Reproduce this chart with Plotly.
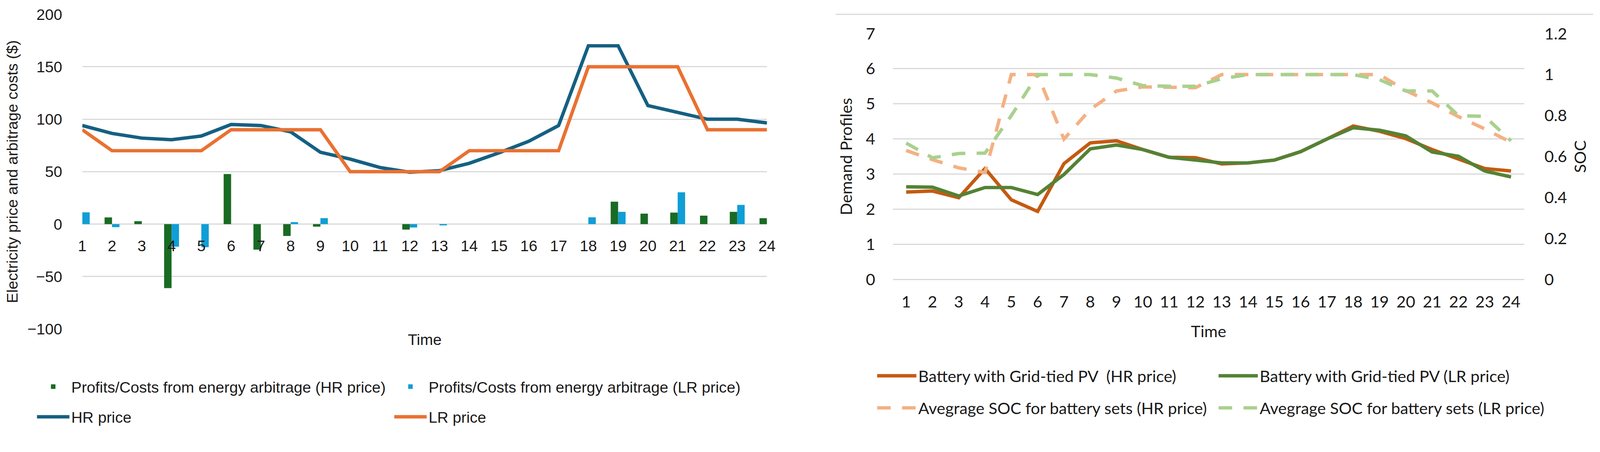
import plotly.graph_objects as go

W, H = 4241, 1157

hours = list(range(1, 25))
hour_labels = [str(h) for h in hours]

# Left chart data
arb_hr = [0, 6.4, 2.8, -61, 0, 47.7, -24.3, -11.3, -2.4, 0, 0, -5.2,
          0, 0, 0, 0, 0, 0, 21.4, 10, 11, 8.1, 11.7, 5.7]
arb_lr = [11.2, -2.9, 0, -21.5, -22, 0, 0, 1.9, 5.7, 0, 0, -3.2,
          -1.2, 0, 0, 0, 0, 6.5, 11.7, 0, 30.3, 0, 18.3, 0]
hr_price = [94, 86.5, 82, 80.5, 84, 95, 94, 88, 68.5, 62, 54, 49.5,
            51, 58, 68, 79, 94, 170, 170, 113, 106.5, 100, 100, 96.5]
lr_price = [90, 70, 70, 70, 70, 90, 90, 90, 90, 50, 50, 50,
            50, 70, 70, 70, 70, 150, 150, 150, 150, 90, 90, 90]

# Right chart data
batt_hr = [2.49, 2.52, 2.33, 3.16, 2.27, 1.94, 3.30, 3.89, 3.95, 3.70, 3.48, 3.47,
           3.29, 3.32, 3.40, 3.64, 4.00, 4.37, 4.22, 4.01, 3.70, 3.43, 3.16, 3.09]
batt_lr = [2.64, 2.63, 2.38, 2.62, 2.62, 2.42, 2.99, 3.72, 3.83, 3.70, 3.48, 3.41,
           3.32, 3.32, 3.40, 3.64, 4.00, 4.32, 4.25, 4.09, 3.63, 3.51, 3.09, 2.92]
soc_hr = [0.63, 0.585, 0.545, 0.522, 1.0, 1.0, 0.685, 0.83, 0.92, 0.94, 0.938, 0.936,
          1.0, 1.0, 1.0, 1.0, 1.0, 1.0, 1.0, 0.922, 0.862, 0.795, 0.735, 0.67]
soc_lr = [0.666, 0.594, 0.615, 0.617, 0.80, 1.0, 1.0, 1.0, 0.983, 0.946, 0.943, 0.943,
          0.98, 1.0, 1.0, 1.0, 1.0, 1.0, 0.975, 0.92, 0.92, 0.80, 0.796, 0.677]

left_y_ticks = [-100, -50, 0, 50, 100, 150, 200]
soc_ticks = [0, 0.2, 0.4, 0.6, 0.8, 1.0, 1.2]
soc_tick_text = ["0", "0.2", "0.4", "0.6", "0.8", "1", "1.2"]

FONT_L = "Liberation Sans, Arial, sans-serif"
FONT_R = "Lato, Liberation Sans, sans-serif"
GRID = "#d9d9d9"
TXT = "#1a1a1a"
FS_L = 41
FS_R = 43


def px_x(p):
    return p / W


def px_y(p):
    return 1 - p / H


# layout geometry (pixels)
L_X0, L_X1 = 218, 2033
L_YT, L_YB = 38, 872
R_X0, R_X1 = 2367, 4040
R_YT, R_YB = 89, 741

ly_dom = [px_y(L_YB), px_y(L_YT)]
lrange = [-100, 200]
zero_pos = ly_dom[0] + (0 - lrange[0]) / (lrange[1] - lrange[0]) * (ly_dom[1] - ly_dom[0])

fig = go.Figure()

fig.add_trace(go.Bar(
    x=hours, y=arb_hr, name="Profits/Costs from energy arbitrage (HR price)",
    marker=dict(color="#196B24", line=dict(width=0)), xaxis="x", yaxis="y",
    legend="legend"))
fig.add_trace(go.Bar(
    x=hours, y=arb_lr, name="Profits/Costs from energy arbitrage (LR price)",
    marker=dict(color="#0F9ED5", line=dict(width=0)), xaxis="x", yaxis="y",
    legend="legend"))
fig.add_trace(go.Scatter(
    x=hours, y=hr_price, name="HR price", mode="lines",
    line=dict(color="#156082", width=9), xaxis="x", yaxis="y", legend="legend2"))
fig.add_trace(go.Scatter(
    x=hours, y=lr_price, name="LR price", mode="lines",
    line=dict(color="#E97132", width=9), xaxis="x", yaxis="y", legend="legend2"))

fig.add_trace(go.Scatter(
    x=hours, y=batt_hr, name="Battery with Grid-tied PV  (HR price)", mode="lines",
    line=dict(color="#C55A11", width=9), xaxis="x2", yaxis="y2", legend="legend3"))
fig.add_trace(go.Scatter(
    x=hours, y=batt_lr, name="Battery with Grid-tied PV (LR price)", mode="lines",
    line=dict(color="#548235", width=9), xaxis="x2", yaxis="y2", legend="legend3"))
fig.add_trace(go.Scatter(
    x=hours, y=soc_hr, name="Avegrage SOC for battery sets (HR price)", mode="lines",
    line=dict(color="#F4B183", width=9, dash="36px,30px"), xaxis="x2", yaxis="y3",
    legend="legend4"))
fig.add_trace(go.Scatter(
    x=hours, y=soc_lr, name="Avegrage SOC for battery sets (LR price)", mode="lines",
    line=dict(color="#A9D18E", width=9, dash="36px,30px"), xaxis="x2", yaxis="y3",
    legend="legend4"))

leg_common = dict(orientation="h", bgcolor="rgba(0,0,0,0)", xanchor="left",
                  yanchor="middle", entrywidthmode="pixels",
                  traceorder="normal", valign="middle")

fig.update_layout(
    width=W, height=H,
    margin=dict(l=0, r=0, t=0, b=0),
    paper_bgcolor="white", plot_bgcolor="white",
    barmode="group", bargap=0.5, bargroupgap=0,
    font=dict(family=FONT_L, size=FS_L, color=TXT),
    xaxis=dict(
        domain=[px_x(L_X0), px_x(L_X1)], range=[1, 24], anchor="free",
        position=zero_pos, tickmode="array", tickvals=hours, ticktext=hour_labels,
        showgrid=False, showline=False, zeroline=False, ticks="",
        ticklabelstandoff=30, tickfont=dict(family=FONT_L, size=FS_L, color=TXT),
        automargin=False,
    ),
    yaxis=dict(
        domain=ly_dom, range=lrange, tickmode="array", tickvals=left_y_ticks,
        showgrid=True, gridcolor=GRID, gridwidth=3, zeroline=True,
        zerolinecolor=GRID, zerolinewidth=3, showline=False, ticks="",
        ticklabelstandoff=52, tickfont=dict(family=FONT_L, size=FS_L, color=TXT),
        title=dict(text="Electricity price and arbitrage costs ($)", standoff=12,
                   font=dict(family=FONT_L, size=FS_L, color=TXT)),
        automargin=False,
    ),
    xaxis2=dict(
        domain=[px_x(R_X0), px_x(R_X1)], range=[0.5, 24.5], anchor="y2",
        tickmode="array", tickvals=hours, ticktext=hour_labels,
        showgrid=False, showline=False, zeroline=False, ticks="",
        ticklabelstandoff=30, tickfont=dict(family=FONT_R, size=FS_R, color=TXT),
        title=dict(text="Time", standoff=40, font=dict(family=FONT_R, size=FS_R, color=TXT)),
        automargin=False,
    ),
    yaxis2=dict(
        domain=[px_y(R_YB), px_y(R_YT)], range=[0, 7], dtick=1, anchor="x2",
        showgrid=True, gridcolor=GRID, gridwidth=3, zeroline=True,
        zerolinecolor=GRID, zerolinewidth=3, showline=False, ticks="",
        ticklabelstandoff=46, tickfont=dict(family=FONT_R, size=FS_R, color=TXT),
        title=dict(text="Demand Profiles", standoff=22,
                   font=dict(family=FONT_R, size=FS_R, color=TXT)),
        automargin=False,
    ),
    yaxis3=dict(
        range=[0, 1.2], tickmode="array", tickvals=soc_ticks, ticktext=soc_tick_text,
        overlaying="y2", side="right", anchor="x2",
        showgrid=False, zeroline=False, showline=False,
        ticks="outside", ticklen=44, tickwidth=1, tickcolor="rgba(0,0,0,0)",
        tickfont=dict(family=FONT_R, size=FS_R, color=TXT),
        title=dict(text="SOC", standoff=20, font=dict(family=FONT_R, size=FS_R, color=TXT)),
        automargin=False,
    ),
    legend=dict(x=px_x(93), y=px_y(1025), entrywidth=846, itemwidth=86,
                font=dict(family=FONT_L, size=FS_L, color=TXT), **leg_common),
    legend2=dict(x=px_x(93), y=px_y(1105), entrywidth=846, itemwidth=86,
                 font=dict(family=FONT_L, size=FS_L, color=TXT), **leg_common),
    legend3=dict(x=px_x(2320), y=px_y(996), entrywidth=786, itemwidth=104,
                 font=dict(family=FONT_R, size=FS_R, color=TXT), **leg_common),
    legend4=dict(x=px_x(2320), y=px_y(1081), entrywidth=786, itemwidth=104,
                 font=dict(family=FONT_R, size=FS_R, color=TXT), **leg_common),
    annotations=[dict(text="Time", x=(px_x(L_X0) + px_x(L_X1)) / 2, y=px_y(900),
                      xref="paper", yref="paper", showarrow=False,
                      xanchor="center", yanchor="middle",
                      font=dict(family=FONT_L, size=FS_L, color=TXT))],
    shapes=[dict(type="line", xref="paper", yref="paper",
                 x0=px_x(2215), x1=px_x(4223), y0=px_y(38), y1=px_y(38),
                 line=dict(color=GRID, width=3))],
)

fit_script = """
document.documentElement.style.margin = '0';
document.body.style.margin = '0';
document.body.style.overflow = 'hidden';
var gd = document.getElementById('{plot_id}');
var s = Math.min(window.innerWidth / %d, window.innerHeight / %d);
if (s < 0.999) { gd.style.transformOrigin = '0 0'; gd.style.transform = 'scale(' + s + ')'; }
""" % (W, H)

fig.write_html("out.html", config={"displayModeBar": False}, post_script=fit_script)
